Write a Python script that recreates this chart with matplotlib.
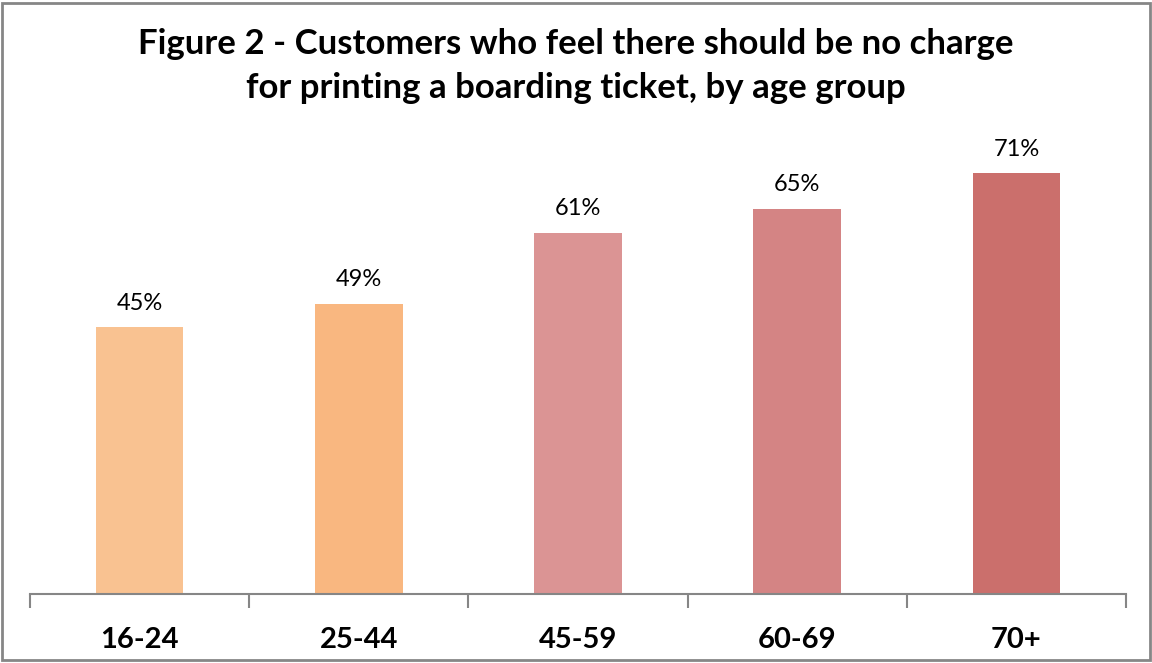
import matplotlib.pyplot as plt
import numpy as np
from matplotlib.patches import Rectangle

grupos = ["16-24", "25-44", "45-59", "60-69", "70+"]
valores = [45, 49, 61, 65, 71]
colores = ["#F9C291", "#F9B780", "#DB9494", "#D48484", "#CB6F6C"]

plt.rcParams['font.family'] = ['Lato', 'DejaVu Sans']

fig = plt.figure(figsize=(11.52, 6.63), dpi=100)
ax = fig.add_axes([30 / 1152, 69 / 663, 1096 / 1152, 474 / 663])

x = np.arange(len(grupos))
barras = ax.bar(x, valores, width=0.4, color=colores)
for xi, v in zip(x, valores):
    ax.text(xi, v + 2.3, f"{v}%", ha='center', va='bottom', fontsize=17, color='black')

ax.set_xlim(-0.5, len(grupos) - 0.5)
ax.set_ylim(0, 80)
ax.set_yticks([])
ax.set_xticks(x)
ax.set_xticklabels(grupos, fontsize=21, fontweight='bold')
ax.set_xticks(np.arange(-0.5, len(grupos)), minor=True)
ax.tick_params(axis='x', which='major', length=0, pad=24)
ax.tick_params(axis='x', which='minor', length=10, color='#868686', width=1.5, direction='out')
for lado in ['top', 'right', 'left']:
    ax.spines[lado].set_visible(False)
ax.spines['bottom'].set_color('#868686')
ax.spines['bottom'].set_linewidth(1.5)

fig.text(0.5, 0.958, "Figure 2 - Customers who feel there should be no charge\nfor printing a boarding ticket, by age group",
         ha='center', va='top', fontsize=25, fontweight='bold', linespacing=1.45)

fig.patches.append(Rectangle((0.002, 0.004), 0.996, 0.992, transform=fig.transFigure,
                             fill=False, edgecolor='#868686', linewidth=2))

fig.savefig("out.png", dpi=100)
